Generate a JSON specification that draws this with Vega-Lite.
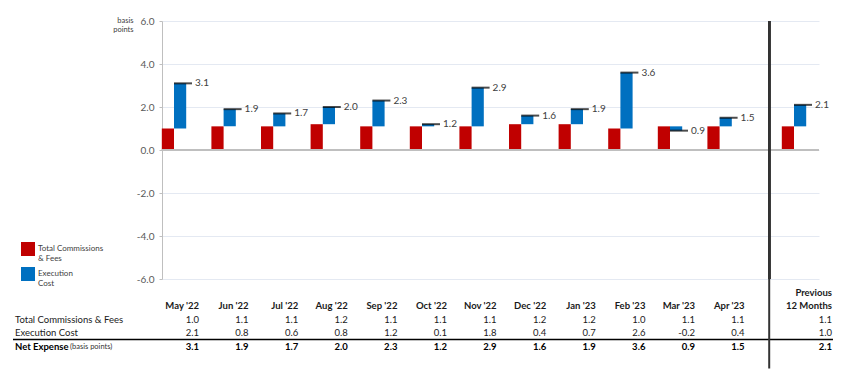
{
  "$schema": "https://vega.github.io/schema/vega-lite/v6.json",
  "padding": {"left": 12, "top": 16, "right": 5, "bottom": 2},
  "config": {
    "view": {"stroke": null},
    "font": "Lato",
    "style": {"guide-label": {"lineHeight": 10}},
    "locale": {"number": {"decimal": ".", "thousands": ",", "grouping": [3], "currency": ["$", ""], "minus": "-"}}
  },
  "datasets": {
    "main": [
      {"cat": "May '22", "cat0": "", "i": 0, "tc": 1.0, "ec": 2.1, "net": 3.1},
      {"cat": "Jun '22", "cat0": "", "i": 1, "tc": 1.1, "ec": 0.8, "net": 1.9},
      {"cat": "Jul '22", "cat0": "", "i": 2, "tc": 1.1, "ec": 0.6, "net": 1.7},
      {"cat": "Aug '22", "cat0": "", "i": 3, "tc": 1.2, "ec": 0.8, "net": 2.0},
      {"cat": "Sep '22", "cat0": "", "i": 4, "tc": 1.1, "ec": 1.2, "net": 2.3},
      {"cat": "Oct '22", "cat0": "", "i": 5, "tc": 1.1, "ec": 0.1, "net": 1.2},
      {"cat": "Nov '22", "cat0": "", "i": 6, "tc": 1.1, "ec": 1.8, "net": 2.9},
      {"cat": "Dec '22", "cat0": "", "i": 7, "tc": 1.2, "ec": 0.4, "net": 1.6},
      {"cat": "Jan '23", "cat0": "", "i": 8, "tc": 1.2, "ec": 0.7, "net": 1.9},
      {"cat": "Feb '23", "cat0": "", "i": 9, "tc": 1.0, "ec": 2.6, "net": 3.6},
      {"cat": "Mar '23", "cat0": "", "i": 10, "tc": 1.1, "ec": -0.2, "net": 0.9},
      {"cat": "Apr '23", "cat0": "", "i": 11, "tc": 1.1, "ec": 0.4, "net": 1.5},
      {"cat": "12 Months", "cat0": "Previous", "i": 12.5, "tc": 1.1, "ec": 1.0, "net": 2.1}
    ],
    "rows": [
      {"lab": "Total Commissions & Fees", "row": "tc"},
      {"lab": "Execution Cost", "row": "ec"}
    ]
  },
  "vconcat": [
    {
      "width": 657,
      "height": 258,
      "data": {"name": "main"},
      "layer": [
        {
          "mark": {"type": "bar", "width": 12.2, "xOffset": -6.1},
          "encoding": {
            "x": {"field": "i", "type": "quantitative", "scale": {"domain": [-0.242, 13.004], "nice": false, "zero": false, "padding": 0}, "axis": null},
            "y": {"field": "tc", "type": "quantitative", "scale": {"domain": [-6, 6], "nice": false, "padding": 0},
              "axis": {"values": [-6, -4, -2, 0, 2, 4, 6], "format": ".1f", "labelFontSize": 10, "labelColor": "#595959", "labelPadding": 5,
                "tickSize": 3, "tickColor": "#BFBFBF", "domainColor": "#BFBFBF", "gridColor": "#E4E9F2", "grid": true,
                "title": ["basis", "points"], "titleAngle": 0, "titleAlign": "right", "titleBaseline": "top", "titleX": -29, "titleY": -5,
                "titleFontSize": 7.5, "titleFontWeight": "normal", "titleColor": "#404040", "titleLineHeight": 9}},
            "y2": {"datum": 0},
            "color": {"datum": "Total Commissions & Fees", "type": "nominal",
              "scale": {"domain": ["Total Commissions & Fees", "Execution Cost"], "range": ["#C00000", "#0070C0"]},
              "legend": {"orient": "none", "legendX": -141, "legendY": 221, "title": null, "symbolType": "square", "symbolSize": 196,
                "symbolStrokeWidth": 0, "labelFontSize": 8, "labelColor": "#404040", "labelOffset": 3, "rowPadding": 4,
                "labelExpr": "datum.label == 'Total Commissions & Fees' ? ['Total Commissions', '& Fees'] : ['Execution', 'Cost']"}}
          }
        },
        {
          "mark": {"type": "bar", "width": 12.2, "xOffset": 6.1},
          "encoding": {
            "x": {"field": "i", "type": "quantitative"},
            "y": {"field": "tc", "type": "quantitative"},
            "y2": {"field": "net"},
            "color": {"datum": "Execution Cost", "type": "nominal"}
          }
        },
        {
          "mark": {"type": "rule", "color": "#BFBFBF", "strokeWidth": 1.5},
          "encoding": {"y": {"datum": 0}}
        },
        {
          "mark": {"type": "tick", "orient": "horizontal", "size": 18, "thickness": 2, "xOffset": 9, "color": "#000000"},
          "encoding": {
            "x": {"field": "i", "type": "quantitative"},
            "y": {"field": "net", "type": "quantitative"}
          }
        },
        {
          "mark": {"type": "text", "align": "left", "baseline": "middle", "dx": 21, "fontSize": 10, "color": "#404040"},
          "encoding": {
            "x": {"field": "i", "type": "quantitative"},
            "y": {"field": "net", "type": "quantitative"},
            "text": {"field": "net", "type": "quantitative", "format": ".1f"}
          }
        },
        {
          "mark": {"type": "rule", "color": "#333333", "strokeWidth": 2},
          "encoding": {"x": {"datum": 12}}
        }
      ]
    },
    {
      "width": 657,
      "height": 81,
      "data": {"name": "main"},
      "layer": [
        {
          "transform": [{"filter": "datum.i < 12"}],
          "mark": {"type": "text", "align": "right", "baseline": "middle", "dx": 25, "fontSize": 9.5, "fontWeight": "bold", "color": "#1a1a1a"},
          "encoding": {
            "x": {"field": "i", "type": "quantitative", "scale": {"domain": [-0.242, 13.004], "nice": false, "zero": false, "padding": 0}, "axis": null},
            "y": {"datum": "h2", "type": "nominal", "scale": {"type": "point", "domain": ["h1", "h2", "tc", "ec", "net"], "padding": 1.057}, "axis": null},
            "text": {"field": "cat"}
          }
        },
        {
          "transform": [{"filter": "datum.i > 12"}],
          "mark": {"type": "text", "align": "right", "baseline": "middle", "dx": 38, "fontSize": 9.5, "fontWeight": "bold", "color": "#1a1a1a"},
          "encoding": {
            "x": {"field": "i", "type": "quantitative"},
            "y": {"datum": "h2", "type": "nominal"},
            "text": {"field": "cat"}
          }
        },
        {
          "transform": [{"filter": "datum.i > 12"}],
          "mark": {"type": "text", "align": "right", "baseline": "middle", "dx": 38, "fontSize": 9.5, "fontWeight": "bold", "color": "#1a1a1a"},
          "encoding": {
            "x": {"field": "i", "type": "quantitative"},
            "y": {"datum": "h1", "type": "nominal"},
            "text": {"field": "cat0"}
          }
        },
        {
          "transform": [{"filter": "datum.i < 12"}, {"fold": ["tc", "ec"], "as": ["row", "v"]}],
          "mark": {"type": "text", "align": "right", "baseline": "middle", "dx": 25, "fontSize": 9.5, "color": "#1a1a1a"},
          "encoding": {
            "x": {"field": "i", "type": "quantitative"},
            "y": {"field": "row", "type": "nominal"},
            "text": {"field": "v", "type": "quantitative", "format": ".1f"}
          }
        },
        {
          "transform": [{"filter": "datum.i > 12"}, {"fold": ["tc", "ec"], "as": ["row", "v"]}],
          "mark": {"type": "text", "align": "right", "baseline": "middle", "dx": 38, "fontSize": 9.5, "color": "#1a1a1a"},
          "encoding": {
            "x": {"field": "i", "type": "quantitative"},
            "y": {"field": "row", "type": "nominal"},
            "text": {"field": "v", "type": "quantitative", "format": ".1f"}
          }
        },
        {
          "transform": [{"filter": "datum.i < 12"}],
          "mark": {"type": "text", "align": "right", "baseline": "middle", "dx": 25, "fontSize": 9.5, "fontWeight": "bold", "color": "#000000"},
          "encoding": {
            "x": {"field": "i", "type": "quantitative"},
            "y": {"datum": "net", "type": "nominal"},
            "text": {"field": "net", "type": "quantitative", "format": ".1f"}
          }
        },
        {
          "transform": [{"filter": "datum.i > 12"}],
          "mark": {"type": "text", "align": "right", "baseline": "middle", "dx": 38, "fontSize": 9.5, "fontWeight": "bold", "color": "#000000"},
          "encoding": {
            "x": {"field": "i", "type": "quantitative"},
            "y": {"datum": "net", "type": "nominal"},
            "text": {"field": "net", "type": "quantitative", "format": ".1f"}
          }
        },
        {
          "data": {"name": "rows"},
          "mark": {"type": "text", "align": "left", "baseline": "middle", "fontSize": 9.5, "color": "#1a1a1a"},
          "encoding": {
            "x": {"datum": -3.206},
            "y": {"field": "row", "type": "nominal"},
            "text": {"field": "lab"}
          }
        },
        {
          "data": {"values": [{"lab": "Net Expense"}]},
          "mark": {"type": "text", "align": "left", "baseline": "middle", "fontSize": 9.5, "fontWeight": "bold", "color": "#000000"},
          "encoding": {
            "x": {"datum": -3.206},
            "y": {"datum": "net", "type": "nominal"},
            "text": {"field": "lab"}
          }
        },
        {
          "data": {"values": [{"lab": "(basis points)"}]},
          "mark": {"type": "text", "align": "left", "baseline": "middle", "fontSize": 7.5, "dx": 55, "dy": 0.5, "color": "#333333"},
          "encoding": {
            "x": {"datum": -3.206},
            "y": {"datum": "net", "type": "nominal"},
            "text": {"field": "lab"}
          }
        },
        {
          "data": {"values": [{}]},
          "mark": {"type": "rule", "color": "#000000", "strokeWidth": 1.5, "yOffset": -7},
          "encoding": {
            "x": {"datum": -3.246},
            "x2": {"datum": 13.286},
            "y": {"datum": "net", "type": "nominal"}
          }
        },
        {
          "data": {"values": [{}]},
          "mark": {"type": "rule", "color": "#333333", "strokeWidth": 2, "yOffset": -14, "y2Offset": 22},
          "encoding": {"x": {"datum": 12}, "y": {"datum": "h1", "type": "nominal"}, "y2": {"datum": "net"}}
        }
      ]
    }
  ],
  "spacing": 0,
  "bounds": "flush"
}
